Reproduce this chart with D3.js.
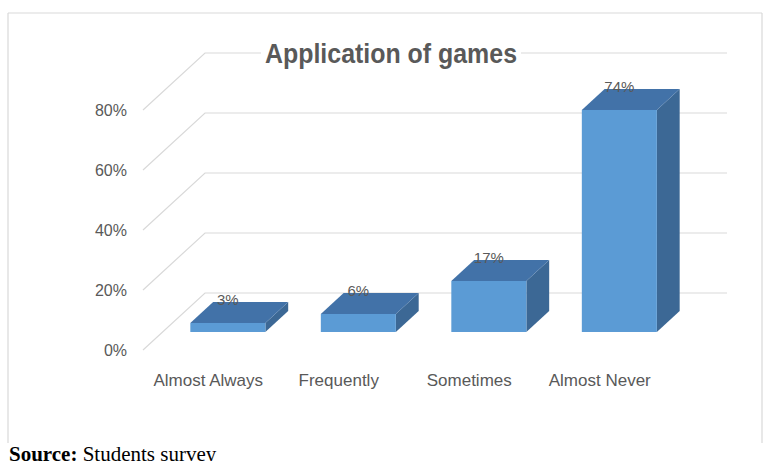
<!DOCTYPE html>
<html>
<head>
<meta charset="utf-8">
<script src="https://cdn.jsdelivr.net/npm/d3@7/dist/d3.min.js"></script>
<style>
  html, body { margin: 0; padding: 0; background: #fff; }
  svg { display: block; }
</style>
</head>
<body>
<svg id="chart" width="763" height="461"></svg>
<script>
// Survey results: how often games are applied
const categories = ["Almost Always", "Frequently", "Sometimes", "Almost Never"];
const values = [3, 6, 17, 74];
const valueLabels = ["3%", "6%", "17%", "74%"];
const yTicks = [0, 20, 40, 60, 80];
const yTickLabels = ["0%", "20%", "40%", "60%", "80%"];
const title = "Application of games";

const svg = d3.select("#chart");

const labelFont = "'Liberation Sans', Arial, sans-serif";
const gridColor = "#d9d9d9";
const textColor = "#595959";

// Front plane of the 3D box
const x = d3.scaleBand()
  .domain(categories)
  .range([143, 665])
  .paddingInner(0.425)
  .paddingOuter(0.2125);
const y = d3.scaleLinear().domain([0, 80]).range([350, 110]);

// Oblique depth vector from front plane to back wall
const depth = { dx: 62, dy: -57 };
const barFront = 0.316, barBack = 0.684;

// Outer frame
const frame = svg.append("g").attr("stroke", "#d9d9d9").attr("stroke-width", 1.2).attr("fill", "none");
frame.append("line").attr("x1", 8).attr("y1", 13).attr("x2", 762).attr("y2", 13);
frame.append("line").attr("x1", 8).attr("y1", 13).attr("x2", 8).attr("y2", 443);
frame.append("line").attr("x1", 762).attr("y1", 13).attr("x2", 762).attr("y2", 443);

// Gridlines: side wall diagonal + back wall horizontal
const grid = svg.append("g").attr("fill", "none").attr("stroke", gridColor).attr("stroke-width", 1.2);
const backRight = x.range()[1] + depth.dx;
grid.selectAll("path").data(yTicks).join("path")
  .attr("d", v => {
    const x0 = x.range()[0], y0 = y(v);
    return `M${x0},${y0} L${x0 + depth.dx},${y0 + depth.dy} L${backRight},${y0 + depth.dy}`;
  });

// Y axis labels
svg.append("g").selectAll("text").data(yTicks).join("text")
  .attr("x", 127)
  .attr("y", v => y(v))
  .attr("dy", "0.35em")
  .attr("text-anchor", "end")
  .attr("font-family", labelFont)
  .attr("font-size", 16)
  .attr("fill", textColor)
  .text((v, i) => yTickLabels[i]);

// Title with a white backing so the top gridline stays hidden behind it
const titleG = svg.append("g");
const titleText = titleG.append("text")
  .attr("x", 391)
  .attr("y", 63)
  .attr("text-anchor", "middle")
  .attr("font-family", labelFont)
  .attr("font-weight", "bold")
  .attr("font-size", 27)
  .attr("textLength", 252)
  .attr("lengthAdjust", "spacingAndGlyphs")
  .attr("fill", textColor)
  .text(title);
const tb = titleText.node().getBBox();
titleG.insert("rect", "text")
  .attr("x", tb.x - 4).attr("y", tb.y).attr("width", tb.width + 8).attr("height", tb.height)
  .attr("fill", "#fff");

// 3D bars
const bars = svg.append("g").selectAll("g")
  .data(categories.map((c, i) => ({ c, v: values[i], label: valueLabels[i] })))
  .join("g");

const fx = d => x(d.c) + depth.dx * barFront;
const fy0 = () => y(0) + depth.dy * barFront;
const fy1 = d => y(d.v) + depth.dy * barFront;
const ddx = depth.dx * (barBack - barFront);
const ddy = depth.dy * (barBack - barFront);
const bw = x.bandwidth();

// right side face
bars.append("path")
  .attr("fill", "#3c6895")
  .attr("d", d => {
    const xr = fx(d) + bw;
    return `M${xr},${fy0()} L${xr + ddx},${fy0() + ddy} L${xr + ddx},${fy1(d) + ddy} L${xr},${fy1(d)} Z`;
  });
// top face
bars.append("path")
  .attr("fill", "#4272a8")
  .attr("d", d => {
    const xl = fx(d), yt = fy1(d);
    return `M${xl},${yt} L${xl + bw},${yt} L${xl + bw + ddx},${yt + ddy} L${xl + ddx},${yt + ddy} Z`;
  });
// front face
bars.append("rect")
  .attr("fill", "#5b9bd5")
  .attr("x", d => fx(d))
  .attr("y", d => fy1(d))
  .attr("width", bw)
  .attr("height", d => fy0() - fy1(d));

// value labels
bars.append("text")
  .attr("x", d => fx(d) + bw / 2)
  .attr("y", d => fy1(d) + ddy - 2)
  .attr("dy", "0.35em")
  .attr("text-anchor", "middle")
  .attr("font-family", labelFont)
  .attr("font-size", 15)
  .attr("fill", textColor)
  .text(d => d.label);

// Category labels on the front plane
svg.append("g").selectAll("text").data(categories).join("text")
  .attr("x", c => x(c) + bw / 2)
  .attr("y", 380)
  .attr("dy", "0.35em")
  .attr("text-anchor", "middle")
  .attr("font-family", labelFont)
  .attr("font-size", 17)
  .attr("fill", textColor)
  .text(c => c);

// Source note
const src = svg.append("text")
  .attr("x", 9)
  .attr("y", 461)
  .attr("font-family", "'Liberation Serif', 'Times New Roman', serif")
  .attr("font-size", 21)
  .attr("fill", "#000");
src.append("tspan").attr("font-weight", "bold").text("Source:");
src.append("tspan").text(" Students survey");
</script>
</body>
</html>
